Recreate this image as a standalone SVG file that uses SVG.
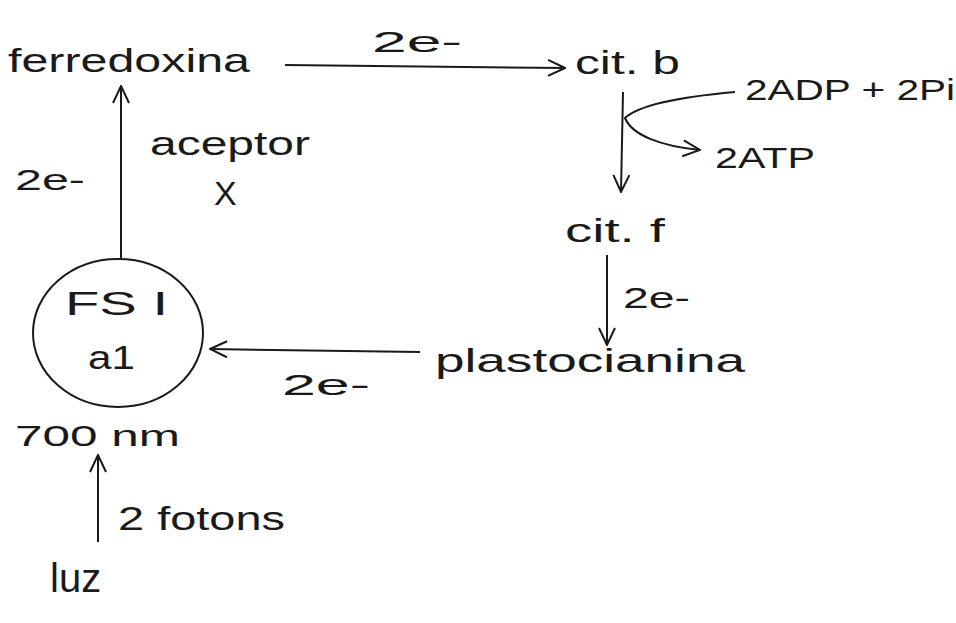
<svg xmlns="http://www.w3.org/2000/svg" width="956" height="623" viewBox="0 0 956 623">
<defs>
<marker id="ahb" viewBox="0 0 20 20" refX="19" refY="10" markerWidth="20" markerHeight="20" markerUnits="userSpaceOnUse" orient="auto">
<path d="M2,2 L19,10 L2,18" fill="none" stroke="#1a1a1a" stroke-width="2"/>
</marker>
</defs>
<style>
text{font-family:"Liberation Sans","DejaVu Sans",sans-serif;fill:#1a1a1a}
.lbl{font-size:34px}
.sm{font-size:30px}
.ln{fill:none;stroke:#1a1a1a;stroke-width:2}
</style>
<rect width="956" height="623" fill="#ffffff"/>
<g id="connectors">
<path class="ln" d="M285,65 L565,68" marker-end="url(#ahb)"/>
<path class="ln" d="M623,92 L621,192" marker-end="url(#ahb)"/>
<path class="ln" d="M735,92 C690,96 640,104 625,118 C632,135 660,146 700,150" marker-end="url(#ahb)"/>
<path class="ln" d="M607,255 L607,345" marker-end="url(#ahb)"/>
<path class="ln" d="M420,352 L210,349" marker-end="url(#ahb)"/>
<path class="ln" d="M121,258 L121,86" marker-end="url(#ahb)"/>
<path class="ln" d="M98,542 L98,455" marker-end="url(#ahb)"/>
</g>
<g id="ferredoxina"><text class="lbl" x="8" y="72" textLength="242" lengthAdjust="spacingAndGlyphs">ferredoxina</text></g>
<g id="label-fd-cytb"><text class="sm" x="372" y="52" textLength="90" lengthAdjust="spacingAndGlyphs">2e-</text></g>
<g id="cit-b"><text class="lbl" x="575" y="74" textLength="105" lengthAdjust="spacingAndGlyphs">cit. b</text></g>
<g id="adp"><text class="sm" x="745" y="100" textLength="210" lengthAdjust="spacingAndGlyphs">2ADP + 2Pi</text></g>
<g id="atp"><text class="sm" x="715" y="168" textLength="100" lengthAdjust="spacingAndGlyphs">2ATP</text></g>
<g id="cit-f"><text class="lbl" x="565" y="242" textLength="100" lengthAdjust="spacingAndGlyphs">cit. f</text></g>
<g id="label-f-pc"><text class="sm" x="623" y="308" textLength="67" lengthAdjust="spacingAndGlyphs">2e-</text></g>
<g id="plastocianina"><text class="lbl" x="435" y="372" textLength="310" lengthAdjust="spacingAndGlyphs">plastocianina</text></g>
<g id="label-pc-fsi"><text class="sm" x="282" y="395" textLength="88" lengthAdjust="spacingAndGlyphs">2e-</text></g>
<g id="fsi">
<ellipse cx="118" cy="333" rx="85" ry="74" fill="none" stroke="#1a1a1a" stroke-width="2"/>
<text class="lbl" x="65" y="315" textLength="103" lengthAdjust="spacingAndGlyphs">FS I</text>
<text class="lbl" x="88" y="369" textLength="47" lengthAdjust="spacingAndGlyphs">a1</text>
</g>
<g id="label-fsi-fd"><text class="sm" x="15" y="190" textLength="70" lengthAdjust="spacingAndGlyphs">2e-</text></g>
<g id="aceptor">
<text class="lbl" x="150" y="155" textLength="160" lengthAdjust="spacingAndGlyphs">aceptor</text>
<text class="lbl" x="214" y="205">X</text>
</g>
<g id="nm"><text class="sm" x="15" y="446" textLength="165" lengthAdjust="spacingAndGlyphs">700 nm</text></g>
<g id="fotons"><text class="lbl" x="118" y="530" textLength="167" lengthAdjust="spacingAndGlyphs">2 fotons</text></g>
<g id="luz"><text x="50" y="592" style="font-size:40px">luz</text></g>
</svg>
